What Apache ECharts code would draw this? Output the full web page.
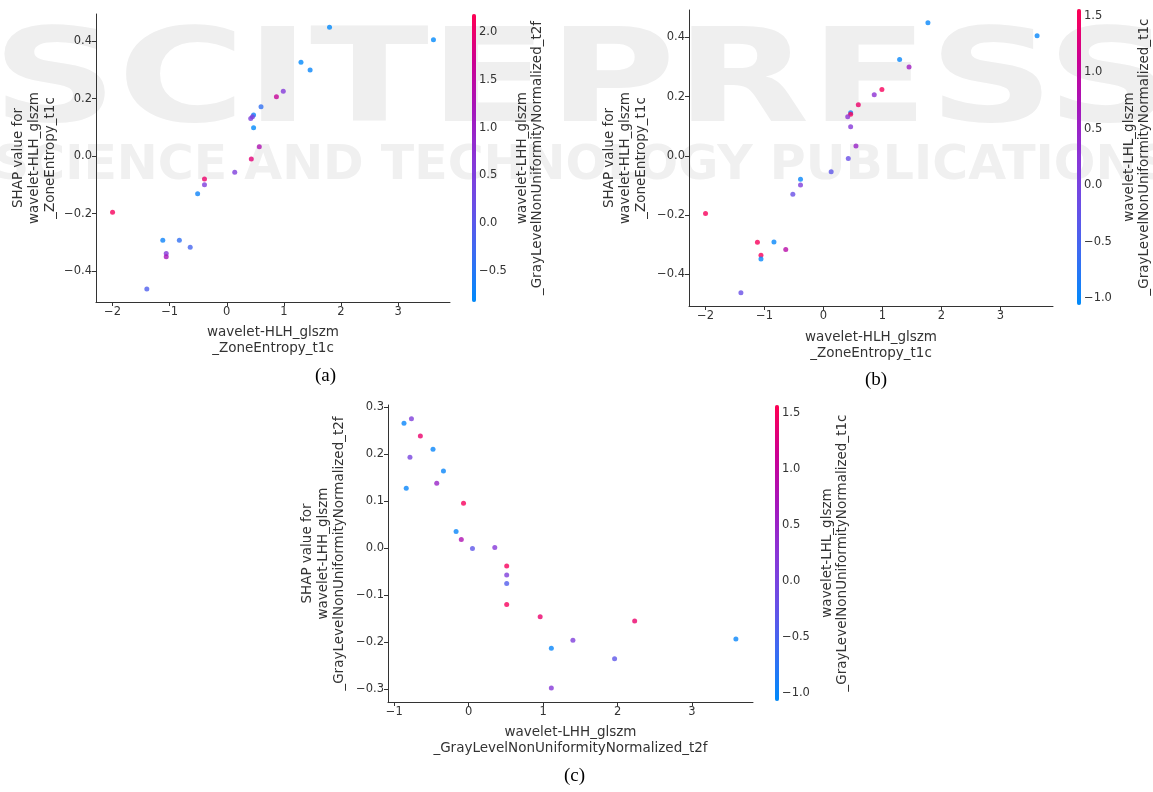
<!DOCTYPE html>
<html>
<head>
<meta charset="utf-8">
<script src="https://cdn.jsdelivr.net/npm/echarts@6/dist/echarts.min.js"></script>
<style>
  html, body { margin: 0; padding: 0; background: #fff; }
  #chart { width: 1153px; height: 792px; }
</style>
</head>
<body>
<div id="chart"></div>
<script>
/* ---------- data: [feature value, SHAP value, interaction feature value] ---------- */
// (a) wavelet-HLH ZoneEntropy_t1c, coloured by LHH GLNN_t2f
const pointsA = [
  [1.80, 0.449, -0.8], [3.62, 0.405, -0.8], [1.30, 0.327, -0.8], [1.46, 0.300, -0.75],
  [0.99, 0.226, 0.6], [0.87, 0.207, 1.6], [0.60, 0.172, -0.4], [0.47, 0.143, -0.7],
  [0.45, 0.137, 0.4], [0.42, 0.131, 0.5], [0.47, 0.099, -0.8], [0.57, 0.033, 1.3],
  [0.43, -0.010, 1.9], [0.14, -0.056, 0.5], [-0.39, -0.080, 2.0], [-0.39, -0.100, 0.5],
  [-0.51, -0.131, -0.7], [-2.00, -0.195, 2.1], [-1.12, -0.293, -0.7], [-0.83, -0.293, -0.4],
  [-0.64, -0.317, -0.2], [-1.06, -0.339, 0.6], [-1.06, -0.350, 1.2], [-1.40, -0.463, -0.1]
];
// (b) wavelet-HLH ZoneEntropy_t1c, coloured by LHL GLNN_t1c
const pointsB = [
  [1.77, 0.449, -1.0], [3.62, 0.405, -1.0], [1.29, 0.325, -1.0], [1.45, 0.300, 0.6],
  [0.99, 0.224, 1.5], [0.86, 0.206, 0.3], [0.59, 0.172, 1.4], [0.46, 0.145, -0.9],
  [0.46, 0.140, 1.5], [0.41, 0.132, 0.3], [0.46, 0.098, 0.2], [0.55, 0.033, 0.5],
  [0.42, -0.009, -0.2], [0.13, -0.054, -0.3], [-0.39, -0.079, -1.0], [-0.39, -0.099, 0.1],
  [-0.52, -0.130, -0.2], [-2.00, -0.195, 1.5], [-1.12, -0.292, 1.5], [-0.84, -0.291, -1.0],
  [-0.64, -0.316, 0.9], [-1.06, -0.336, 1.5], [-1.06, -0.348, -1.0], [-1.40, -0.462, -0.2]
];
// (c) wavelet-LHH GLNN_t2f, coloured by LHL GLNN_t1c
const pointsC = [
  [-0.87, 0.265, -1.0], [-0.77, 0.275, 0.1], [-0.65, 0.238, 1.4], [-0.48, 0.210, -1.0],
  [-0.79, 0.193, 0.0], [-0.34, 0.164, -1.0], [-0.43, 0.138, 0.5], [-0.84, 0.127, -1.0],
  [-0.07, 0.095, 1.5], [-0.17, 0.035, -1.0], [-0.10, 0.018, 0.8], [0.05, -0.001, -0.3],
  [0.35, 0.001, 0.2], [0.51, -0.038, 1.5], [0.51, -0.057, 0.1], [0.51, -0.075, -0.4],
  [0.51, -0.120, 1.5], [0.96, -0.146, 1.4], [2.23, -0.155, 1.4], [3.59, -0.193, -1.0],
  [1.11, -0.213, -1.0], [1.40, -0.196, 0.1], [1.96, -0.235, -0.3], [1.11, -0.297, 0.2]
];

/* ---------- tick labels ---------- */
const xTicksAB = [-2, -1, 0, 1, 2, 3];
const yTicksAB = [-0.4, -0.2, 0, 0.2, 0.4];
const xTicksC = [-1, 0, 1, 2, 3];
const yTicksC = [-0.3, -0.2, -0.1, 0, 0.1, 0.2, 0.3];
const cbarTicksA = [-0.5, 0, 0.5, 1, 1.5, 2];
const cbarTicksBC = [-1, -0.5, 0, 0.5, 1, 1.5];

/* ---------- labels ---------- */
const yNameAB = 'SHAP value for\nwavelet-HLH_glszm\n_ZoneEntropy_t1c';
const xNameAB = 'wavelet-HLH_glszm\n_ZoneEntropy_t1c';
const yNameC = 'SHAP value for\nwavelet-LHH_glszm\n_GrayLevelNonUniformityNormalized_t2f';
const xNameC = 'wavelet-LHH_glszm\n_GrayLevelNonUniformityNormalized_t2f';
const cbarNameA = 'wavelet-LHH_glszm\n_GrayLevelNonUniformityNormalized_t2f';
const cbarNameBC = 'wavelet-LHL_glszm\n_GrayLevelNonUniformityNormalized_t1c';

const FONT = 'DejaVu Sans';
const INK = '#333333';
const TICK = 11.5;
const NAME = 13.5;
const shapColors = ['#008bfb', '#3a6cf2', '#6a4ee6', '#8a35d6', '#a516bb', '#cc0092', '#ff0052'];
const minus = s => String(s).replace('-', '\u2212');

/* 主图坐标轴 */
function mainX(grid, min, max, ticks, name, gap) {
  return {
    type: 'value', gridIndex: grid, min, max,
    splitLine: { show: false },
    axisLine: { onZero: false, lineStyle: { color: INK, width: 1 } },
    axisTick: { customValues: ticks, length: 4, lineStyle: { color: INK } },
    axisLabel: { customValues: ticks, color: INK, fontFamily: FONT, fontSize: TICK, margin: 4, formatter: v => minus(String(v)) },
    name, nameLocation: 'middle', nameGap: gap,
    nameTextStyle: { color: INK, fontFamily: FONT, fontSize: NAME, lineHeight: 16 }
  };
}
function mainY(grid, min, max, ticks, name, gap) {
  return {
    type: 'value', gridIndex: grid, min, max,
    splitLine: { show: false },
    axisLine: { onZero: false, lineStyle: { color: INK, width: 1 } },
    axisTick: { customValues: ticks, length: 4, lineStyle: { color: INK } },
    axisLabel: { customValues: ticks, color: INK, fontFamily: FONT, fontSize: TICK, margin: 4, formatter: v => minus(v.toFixed(1)) },
    name, nameLocation: 'middle', nameRotate: 90, nameGap: gap,
    nameTextStyle: { color: INK, fontFamily: FONT, fontSize: NAME, lineHeight: 16 }
  };
}
/* colorbar 刻度轴 */
function cbarY(grid, min, max, ticks, name, gap) {
  return {
    type: 'value', gridIndex: grid, min, max, position: 'right',
    splitLine: { show: false },
    axisLine: { show: false },
    axisTick: { customValues: ticks, length: 3.5, lineStyle: { color: INK } },
    axisLabel: { customValues: ticks, color: INK, fontFamily: FONT, fontSize: TICK, margin: 3, formatter: v => minus(v.toFixed(1)) },
    name, nameLocation: 'middle', nameRotate: 90, nameGap: gap,
    nameTextStyle: { color: INK, fontFamily: FONT, fontSize: NAME, lineHeight: 15 }
  };
}
function cbarMap(series, left, top, h, min, max) {
  return {
    type: 'continuous', seriesIndex: series, dimension: 2, min, max,
    left, top, itemWidth: 4, itemHeight: h, padding: 0,
    calculable: false, hoverLink: false, text: null, showLabel: false,
    inRange: { color: shapColors }
  };
}

const chart = echarts.init(document.getElementById('chart'));
const option = {
  backgroundColor: '#fff',
  animation: false,
  graphic: [
    { type: 'text', z: -10, left: -8, top: 22, scaleX: 1.34,
      style: { text: 'SCITEPRESS', fill: '#efefef', font: 'bold 130px "DejaVu Sans"' } },
    { type: 'text', z: -10, left: -6, top: 143, scaleX: 1.02,
      style: { text: 'SCIENCE AND TECHNOLOGY PUBLICATIONS', fill: '#f0f0f0', font: 'bold 48px "DejaVu Sans"' } },
    { type: 'text', left: 315, top: 367, style: { text: '(a)', fill: '#000', font: '19px "Liberation Serif"' } },
    { type: 'text', left: 865, top: 371, style: { text: '(b)', fill: '#000', font: '19px "Liberation Serif"' } },
    { type: 'text', left: 564, top: 767, style: { text: '(c)', fill: '#000', font: '19px "Liberation Serif"' } }
  ],
  grid: [
    { left: 96, top: 14, width: 354, height: 288 },
    { left: 689, top: 10, width: 364, height: 296 },
    { left: 388, top: 405, width: 365, height: 297 },
    { left: 472, top: 14, width: 4, height: 288 },
    { left: 1077, top: 9, width: 4, height: 296 },
    { left: 775, top: 405, width: 4, height: 296 }
  ],
  xAxis: [
    mainX(0, -2.29, 3.91, xTicksAB, xNameAB, 22),
    mainX(1, -2.28, 3.89, xTicksAB, xNameAB, 23),
    mainX(2, -1.085, 3.82, xTicksC, xNameC, 22),
    { type: 'value', gridIndex: 3, show: false },
    { type: 'value', gridIndex: 4, show: false },
    { type: 'value', gridIndex: 5, show: false }
  ],
  yAxis: [
    mainY(0, -0.508, 0.495, yTicksAB, yNameAB, 38),
    mainY(1, -0.507, 0.492, yTicksAB, yNameAB, 40),
    mainY(2, -0.327, 0.304, yTicksC, yNameC, 41),
    cbarY(3, -0.825, 2.19, cbarTicksA, cbarNameA, 39),
    cbarY(4, -1.06, 1.56, cbarTicksBC, cbarNameBC, 41),
    cbarY(5, -1.07, 1.57, cbarTicksBC, cbarNameBC, 41)
  ],
  visualMap: [
    cbarMap(0, 472, 14, 288, -0.825, 2.19),
    cbarMap(1, 1077, 9, 296, -1.06, 1.56),
    cbarMap(2, 775, 405, 296, -1.07, 1.57)
  ],
  series: [
    { type: 'scatter', xAxisIndex: 0, yAxisIndex: 0, data: pointsA, symbolSize: 5 },
    { type: 'scatter', xAxisIndex: 1, yAxisIndex: 1, data: pointsB, symbolSize: 5 },
    { type: 'scatter', xAxisIndex: 2, yAxisIndex: 2, data: pointsC, symbolSize: 5 }
  ]
};
chart.setOption(option);
</script>
</body>
</html>
